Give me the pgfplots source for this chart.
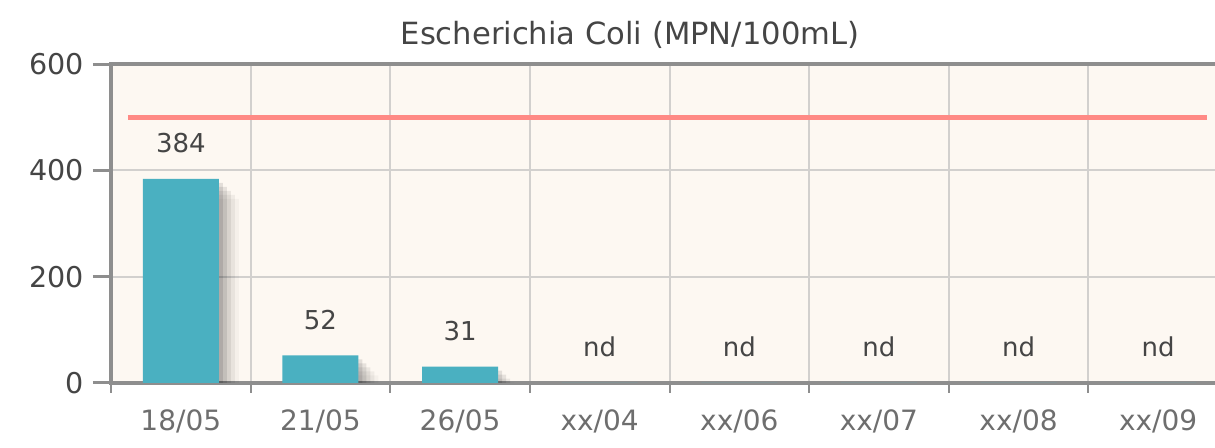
\documentclass[border=0pt]{standalone}
\usepackage{pgfplots}
\pgfplotsset{compat=1.18}
\usepackage{fontspec}
\setmainfont{DejaVu Sans}
\definecolor{bg}{HTML}{FDF8F2}
\definecolor{barc}{HTML}{4AB0C1}
\definecolor{limitc}{HTML}{FF8A85}
\definecolor{axisc}{HTML}{8E8E8E}
\definecolor{gridc}{HTML}{D2D0CE}
\definecolor{txt}{HTML}{454545}
\definecolor{xtxt}{HTML}{6E6E6E}
\begin{document}
\begin{tikzpicture}
\clip (0pt,0pt) rectangle (607.5pt,224pt);
\begin{axis}[
  at={(55.5pt,32.5pt)}, anchor=south west,
  scale only axis, width=558.5pt, height=159.5pt,
  xmin=-0.5, xmax=7.5, ymin=0, ymax=600,
  axis background/.style={fill=bg},
  axis line style={draw=axisc, line width=2pt},
  ytick={0,200,400,600},
  ytick pos=left, xtick pos=bottom,
  tick align=outside,
  major tick length=9pt,
  minor tick length=5pt,
  ymajorgrids, grid style={draw=gridc, line width=1pt},
  y tick style={draw=axisc, line width=1.5pt},
  xtick={0,...,7},
  xticklabels={18/05,21/05,26/05,xx/04,xx/06,xx/07,xx/08,xx/09},
  major x tick style={draw=none},
  minor xtick={-0.5,0.5,...,7.5},
  xminorgrids,
  minor grid style={draw=gridc, line width=1pt},
  minor x tick style={draw=axisc, line width=1pt},
  /pgf/number format/assume math mode=true,
  yticklabel style={font=\fontsize{14.3}{16}\selectfont, text=txt, xshift=-1pt},
  xticklabel style={font=\fontsize{14}{16}\selectfont, text=xtxt, yshift=-1pt},
]
\addplot[ybar, bar width=38pt, bar shift=2pt, fill=black, fill opacity=0.10, draw=none, yshift=-2pt]
  coordinates {(0,384) (1,52) (2,31)};
\addplot[ybar, bar width=38pt, bar shift=4pt, fill=black, fill opacity=0.09, draw=none, yshift=-4pt]
  coordinates {(0,384) (1,52) (2,31)};
\addplot[ybar, bar width=38pt, bar shift=6pt, fill=black, fill opacity=0.07, draw=none, yshift=-6pt]
  coordinates {(0,384) (1,52) (2,31)};
\addplot[ybar, bar width=38pt, bar shift=8pt, fill=black, fill opacity=0.05, draw=none, yshift=-8pt]
  coordinates {(0,384) (1,52) (2,31)};
\addplot[ybar, bar width=38pt, bar shift=10pt, fill=black, fill opacity=0.03, draw=none, yshift=-10pt]
  coordinates {(0,384) (1,52) (2,31)};
\addplot[ybar, bar width=38pt, fill=barc, draw=none,
  nodes near coords={\pgfplotspointmeta},
  point meta=explicit symbolic,
  nodes near coords style={font=\fontsize{13}{15}\selectfont, text=txt, anchor=base, yshift=13pt}]
  coordinates {(0,384) [384] (1,52) [52] (2,31) [31] (3,0) [nd] (4,0) [nd] (5,0) [nd] (6,0) [nd] (7,0) [nd]};
\addplot[limitc, line width=2.5pt, mark=none] coordinates {(-0.38,500) (7.35,500)};
\end{axis}
\node[font=\fontsize{15.3}{18}\selectfont, text=txt] at (315pt,206.5pt) {Escherichia Coli (MPN/100mL)};
\end{tikzpicture}
\end{document}
